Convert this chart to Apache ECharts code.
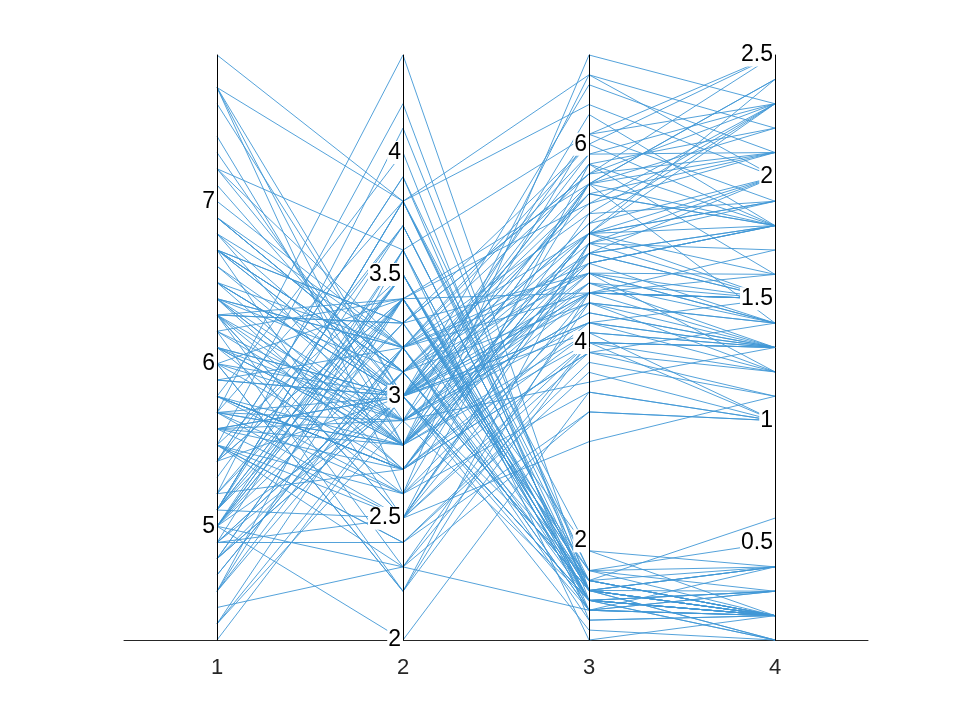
<!DOCTYPE html>
<html>
<head>
<meta charset="utf-8">
<script src="https://cdn.jsdelivr.net/npm/echarts@6/dist/echarts.min.js"></script>
<style>
  html, body { margin: 0; padding: 0; background: #fff; }
  #main { width: 960px; height: 720px; }
</style>
</head>
<body>
<div id="main"></div>
<script>
// columns of the plot (one value per flower, 150 rows)
var sepalLength = [
  5.1,4.9,4.7,4.6,5.0,5.4,4.6,5.0,4.4,4.9,5.4,4.8,4.8,4.3,5.8,5.7,5.4,5.1,5.7,5.1,
  5.4,5.1,4.6,5.1,4.8,5.0,5.0,5.2,5.2,4.7,4.8,5.4,5.2,5.5,4.9,5.0,5.5,4.9,4.4,5.1,
  5.0,4.5,4.4,5.0,5.1,4.8,5.1,4.6,5.3,5.0,
  7.0,6.4,6.9,5.5,6.5,5.7,6.3,4.9,6.6,5.2,5.0,5.9,6.0,6.1,5.6,6.7,5.6,5.8,6.2,5.6,
  5.9,6.1,6.3,6.1,6.4,6.6,6.8,6.7,6.0,5.7,5.5,5.5,5.8,6.0,5.4,6.0,6.7,6.3,5.6,5.5,
  5.5,6.1,5.8,5.0,5.6,5.7,5.7,6.2,5.1,5.7,
  6.3,5.8,7.1,6.3,6.5,7.6,4.9,7.3,6.7,7.2,6.5,6.4,6.8,5.7,5.8,6.4,6.5,7.7,7.7,6.0,
  6.9,5.6,7.7,6.3,6.7,7.2,6.2,6.1,6.4,7.2,7.4,7.9,6.4,6.3,6.1,7.7,6.3,6.4,6.0,6.9,
  6.7,6.9,5.8,6.8,6.7,6.7,6.3,6.5,6.2,5.9
];
var sepalWidth = [
  3.5,3.0,3.2,3.1,3.6,3.9,3.4,3.4,2.9,3.1,3.7,3.4,3.0,3.0,4.0,4.4,3.9,3.5,3.8,3.8,
  3.4,3.7,3.6,3.3,3.4,3.0,3.4,3.5,3.4,3.2,3.1,3.4,4.1,4.2,3.1,3.2,3.5,3.6,3.0,3.4,
  3.5,2.3,3.2,3.5,3.8,3.0,3.8,3.2,3.7,3.3,
  3.2,3.2,3.1,2.3,2.8,2.8,3.3,2.4,2.9,2.7,2.0,3.0,2.2,2.9,2.9,3.1,3.0,2.7,2.2,2.5,
  3.2,2.8,2.5,2.8,2.9,3.0,2.8,3.0,2.9,2.6,2.4,2.4,2.7,2.7,3.0,3.4,3.1,2.3,3.0,2.5,
  2.6,3.0,2.6,2.3,2.7,3.0,2.9,2.9,2.5,2.8,
  3.3,2.7,3.0,2.9,3.0,3.0,2.5,2.9,2.5,3.6,3.2,2.7,3.0,2.5,2.8,3.2,3.0,3.8,2.6,2.2,
  3.2,2.8,2.8,2.7,3.3,3.2,2.8,3.0,2.8,3.0,2.8,3.8,2.8,2.8,2.6,3.0,3.4,3.1,3.0,3.1,
  3.1,3.1,2.7,3.2,3.3,3.0,2.5,3.0,3.4,3.0
];
var petalLength = [
  1.4,1.4,1.3,1.5,1.4,1.7,1.4,1.5,1.4,1.5,1.5,1.6,1.4,1.1,1.2,1.5,1.3,1.4,1.7,1.5,
  1.7,1.5,1.0,1.7,1.9,1.6,1.6,1.5,1.4,1.6,1.6,1.5,1.5,1.4,1.5,1.2,1.3,1.4,1.3,1.5,
  1.3,1.3,1.3,1.6,1.9,1.4,1.6,1.4,1.5,1.4,
  4.7,4.5,4.9,4.0,4.6,4.5,4.7,3.3,4.6,3.9,3.5,4.2,4.0,4.7,3.6,4.4,4.5,4.1,4.5,3.9,
  4.8,4.0,4.9,4.7,4.3,4.4,4.8,5.0,4.5,3.5,3.8,3.7,3.9,5.1,4.5,4.5,4.7,4.4,4.1,4.0,
  4.4,4.6,4.0,3.3,4.2,4.2,4.2,4.3,3.0,4.1,
  6.0,5.1,5.9,5.6,5.8,6.6,4.5,6.3,5.8,6.1,5.1,5.3,5.5,5.0,5.1,5.3,5.5,6.7,6.9,5.0,
  5.7,4.9,6.7,4.9,5.7,6.0,4.8,4.9,5.6,5.8,6.1,6.4,5.6,5.1,5.6,6.1,5.6,5.5,4.8,5.4,
  5.6,5.1,5.1,5.9,5.7,5.2,5.0,5.2,5.4,5.1
];
var petalWidth = [
  0.2,0.2,0.2,0.2,0.2,0.4,0.3,0.2,0.2,0.1,0.2,0.2,0.1,0.1,0.2,0.4,0.4,0.3,0.3,0.3,
  0.2,0.4,0.2,0.5,0.2,0.2,0.4,0.2,0.2,0.2,0.2,0.4,0.1,0.2,0.2,0.2,0.2,0.1,0.2,0.2,
  0.3,0.3,0.2,0.6,0.4,0.3,0.2,0.2,0.2,0.2,
  1.4,1.5,1.5,1.3,1.5,1.3,1.6,1.0,1.3,1.4,1.0,1.5,1.0,1.4,1.3,1.4,1.5,1.0,1.5,1.1,
  1.8,1.3,1.5,1.2,1.3,1.4,1.4,1.7,1.5,1.0,1.1,1.0,1.2,1.6,1.5,1.6,1.5,1.3,1.3,1.3,
  1.2,1.4,1.2,1.0,1.3,1.2,1.3,1.3,1.1,1.3,
  2.5,1.9,2.1,1.8,2.2,2.1,1.7,1.8,1.8,2.5,2.0,1.9,2.1,2.0,2.4,2.3,1.8,2.2,2.3,1.5,
  2.3,2.0,2.0,1.8,2.1,1.8,1.8,1.8,2.1,1.6,1.9,2.0,2.2,1.5,1.4,2.3,2.4,1.8,1.8,2.1,
  2.4,2.3,1.9,2.3,2.5,2.3,1.9,2.0,2.3,1.8
];

// axis ranges and tick labels
var axisMin = [4.3, 2.0, 1.0, 0.1];
var axisMax = [7.9, 4.4, 6.9, 2.5];
var axisTicks = [
  [5, 6, 7],
  [2, 2.5, 3, 3.5, 4],
  [2, 4, 6],
  [0.5, 1, 1.5, 2, 2.5]
];
var columnLabels = [1, 2, 3, 4];

var rows = [];
for (var i = 0; i < sepalLength.length; i++) {
  rows.push([sepalLength[i], sepalWidth[i], petalLength[i], petalWidth[i]]);
}

var font = 'Liberation Sans, Arial, Helvetica, sans-serif';

var axes = [];
for (var k = 0; k < 4; k++) {
  axes.push({
    dim: k,
    name: '',
    min: axisMin[k],
    max: axisMax[k],
    z: 10,
    axisLine: { lineStyle: { color: '#000', width: 1 } },
    axisTick: { show: false },
    splitLine: { show: false },
    axisLabel: {
      customValues: axisTicks[k],
      color: '#000',
      fontSize: 23,
      fontFamily: font,
      align: 'right',
      margin: 0,
      backgroundColor: '#fff',
      padding: [0, 2, 0, 1]
    }
  });
}

var chart = echarts.init(document.getElementById('main'));
chart.setOption({
  animation: false,
  backgroundColor: '#fff',
  grid: { left: 124, right: 92, top: 55, bottom: 80 },
  xAxis: {
    type: 'value',
    min: 0.5,
    max: 4.5,
    splitLine: { show: false },
    axisTick: { show: false },
    axisLine: { lineStyle: { color: '#262626', width: 1 } },
    axisLabel: {
      customValues: columnLabels,
      color: '#262626',
      fontSize: 22,
      fontFamily: font,
      margin: 17
    }
  },
  yAxis: { type: 'value', show: false, min: 0, max: 1 },
  parallel: {
    left: 217,
    right: 185,
    top: 55,
    bottom: 80,
    layout: 'horizontal'
  },
  parallelAxis: axes,
  series: [{
    type: 'parallel',
    silent: true,
    z: 2,
    lineStyle: { color: '#4197d6', width: 0.9, opacity: 1 },
    emphasis: { disabled: true },
    data: rows
  }]
});
</script>
</body>
</html>
